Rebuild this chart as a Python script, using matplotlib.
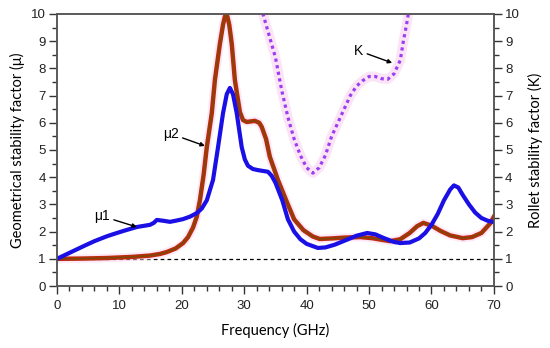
import matplotlib.pyplot as plt
from matplotlib.ticker import MultipleLocator

# mu1 (blue)
mu1_f = [0, 2, 4.2, 6, 8, 9.6, 11, 12.8, 14.9, 15.5, 16, 17, 18.1, 19, 20.2, 21.3, 22.4, 23.2,
         24, 25, 25.8, 26.6, 27.2, 27.7, 28.2, 28.8, 29.6, 30.1, 30.6, 31.4, 32.2, 33.8, 34.4,
         35, 36.1, 37, 38, 39, 40, 41.8, 43, 44.5, 46, 48, 49.7, 51, 52.5, 54, 55, 56.5, 58,
         59, 60, 61, 62, 63, 63.6, 64.3, 65, 66, 67, 68, 69, 70]
mu1_v = [1.0, 1.22, 1.46, 1.65, 1.83, 1.95, 2.05, 2.17, 2.25, 2.32, 2.43, 2.4, 2.36, 2.4, 2.46,
         2.55, 2.68, 2.85, 3.15, 3.9, 5.1, 6.35, 7.05, 7.28, 7.05, 6.35, 5.1, 4.65, 4.42, 4.3,
         4.26, 4.2, 4.05, 3.8, 3.15, 2.45, 2.0, 1.72, 1.55, 1.4, 1.42, 1.52, 1.66, 1.85, 1.95,
         1.9, 1.75, 1.62, 1.58, 1.6, 1.75, 1.95, 2.25, 2.65, 3.15, 3.55, 3.7, 3.62, 3.35, 3.0,
         2.7, 2.5, 2.4, 2.35]

# mu2 (red)
mu2_f = [0, 4, 8, 12, 14.9, 16.5, 17.6, 19, 20.2, 21, 21.8, 22.4, 22.9, 23.5, 24, 24.8, 25.3,
         26.1, 26.6, 26.9, 27.1, 27.3, 27.6, 28, 28.5, 29.3, 29.8, 30.4, 31.7, 32.4, 32.8,
         33.5, 34.1, 35.4, 36.9, 38, 39.5, 41, 42.1, 44, 46, 48.6, 50.5, 52, 53.4, 55, 56.5,
         57.7, 58.7, 60, 61.5, 63, 65, 66.5, 68, 69.4, 70]
mu2_v = [1.0, 1.01, 1.03, 1.07, 1.12, 1.18, 1.25, 1.38, 1.58, 1.8, 2.15, 2.55, 3.15, 4.1,
         5.1, 6.35, 7.57, 8.9, 9.6, 9.9, 10.0, 9.9, 9.6, 8.9, 7.57, 6.4, 6.1, 6.03, 6.07, 6.0,
         5.85, 5.4, 4.75, 3.9, 3.05, 2.45, 2.05, 1.82, 1.73, 1.75, 1.78, 1.8, 1.76, 1.7, 1.65,
         1.72, 1.95, 2.2, 2.32, 2.22, 2.02, 1.86, 1.76, 1.8, 1.95, 2.3, 2.55]

# Rollet K (dotted)
k_f = [32.5, 33, 34, 35, 36, 37, 38, 39, 40, 41, 42, 43, 44, 45, 46, 47, 48, 49, 50, 51, 52,
       53, 54, 55, 55.5, 56, 56.5]
k_v = [10.5, 10.0, 9.2, 8.4, 7.2, 6.2, 5.4, 4.8, 4.35, 4.15, 4.35, 4.8, 5.5, 6.0, 6.5, 7.0,
       7.35, 7.55, 7.7, 7.7, 7.62, 7.6, 7.8, 8.3, 9.0, 9.6, 10.3]

tick_font = 'Liberation Sans'
label_font = 'Lato'

fig = plt.figure(figsize=(5.5, 3.48), dpi=100)
ax = fig.add_axes([0.1036, 0.178, 0.7944, 0.782])
ax2 = ax.twinx()

ax.axhline(1, color='black', lw=0.9, ls=(0, (3, 2.5)), zorder=1)

# faint pink halo behind curves
ax.plot(mu2_f, mu2_v, color='#fbd3f3', lw=6, solid_capstyle='butt', zorder=2, alpha=0.5)
ax.plot(k_f, k_v, color='#fbd3f3', lw=7, solid_capstyle='butt', zorder=2, alpha=0.6)

ax.plot(mu2_f, mu2_v, color='#bb2c0c', lw=3.2, zorder=3)
ax.plot(mu2_f, mu2_v, color='#7a4a08', lw=1.0, zorder=4)
ax.plot(mu1_f, mu1_v, color='#1a10e6', lw=3.0, zorder=5)
ax.plot(k_f, k_v, color='#9a3ff2', lw=2.3, ls=(0, (1, 1.1)), zorder=4)

ax.set_xlim(0, 70)
ax.set_ylim(0, 10)
ax2.set_ylim(0, 10)

ax.xaxis.set_major_locator(MultipleLocator(10))
ax.xaxis.set_minor_locator(MultipleLocator(2))
for a in (ax, ax2):
    a.yaxis.set_major_locator(MultipleLocator(1))
    a.yaxis.set_minor_locator(MultipleLocator(0.5))

ax.tick_params(which='major', direction='out', length=6, width=1, color='#333333',
               labelsize=9.5, pad=2)
ax.tick_params(which='minor', direction='out', length=3.5, width=1, color='#333333')
ax.tick_params(axis='x', which='major', pad=4)
ax2.tick_params(which='major', direction='out', length=6, width=1, color='#333333',
                labelsize=9.5, pad=2)
ax2.tick_params(which='minor', direction='out', length=3.5, width=1, color='#333333')

for a in (ax, ax2):
    for lab in a.get_xticklabels() + a.get_yticklabels():
        lab.set_fontfamily(tick_font)
        lab.set_color('#222222')
    for s in a.spines.values():
        s.set_color('#555555')
        s.set_linewidth(1.1)

ax.set_xlabel('Frequency (GHz)', fontfamily=label_font, fontsize=10.5, labelpad=8)
ax.set_ylabel('Geometrical stability factor (\u03bc)', fontfamily=label_font, fontsize=10.5,
              labelpad=4)
ax2.set_ylabel('Rollet stability factor (K)', fontfamily=label_font, fontsize=10.5,
               labelpad=6)

arrow = dict(arrowstyle='-|>', color='black', lw=1.0, mutation_scale=6, shrinkA=1, shrinkB=0)
ax.annotate('\u03bc1', xy=(12.8, 2.17), xytext=(7.2, 2.57), ha='center', va='center',
            fontsize=10, fontfamily=tick_font, arrowprops=arrow, zorder=6)
ax.annotate('\u03bc2', xy=(23.7, 5.15), xytext=(18.2, 5.6), ha='center', va='center',
            fontsize=10, fontfamily=tick_font, arrowprops=arrow, zorder=6)
ax.annotate('K', xy=(53.7, 8.2), xytext=(48.3, 8.65), ha='center', va='center',
            fontsize=10, fontfamily=tick_font, arrowprops=arrow, zorder=6)

fig.savefig('out.png', dpi=100)
